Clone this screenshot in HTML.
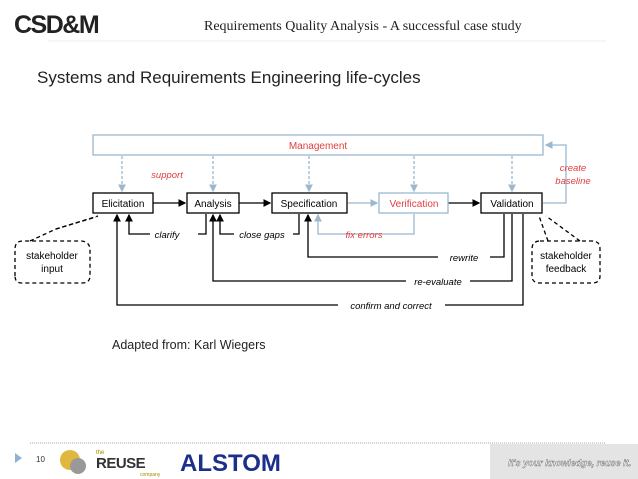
<html><body style="margin:0;width:638px;height:479px;background:#fff;overflow:hidden;position:relative;font-family:'Liberation Sans',sans-serif">
<svg width="638" height="479" style="position:absolute;left:0;top:0">
<defs>
<marker id="a" markerWidth="6" markerHeight="6" refX="5" refY="3" orient="auto"><path d="M0,0L6,3L0,6z" fill="#000"/></marker>
<marker id="b" markerWidth="6" markerHeight="6" refX="5" refY="3" orient="auto"><path d="M0,0L6,3L0,6z" fill="#9bb8cf"/></marker>
</defs>
<text x="14" y="33" font-size="25" font-family="Liberation Sans" font-weight="bold" fill="#222" letter-spacing="-1.5">CSD&amp;M</text>
<text x="204" y="30" font-size="14" font-family="Liberation Serif" fill="#222">Requirements Quality Analysis - A successful case study</text>
<line x1="48" y1="41" x2="606" y2="41" stroke="#eee"/>
<text x="37" y="83" font-size="17" fill="#222">Systems and Requirements Engineering life-cycles</text>
<g fill="none" stroke-width="1.3">
<rect x="93" y="135" width="450" height="20" stroke="#9bb8cf"/>
<g stroke="#9bb8cf" stroke-dasharray="3,2" marker-end="url(#b)">
<line x1="122" y1="156" x2="122" y2="191"/><line x1="213" y1="156" x2="213" y2="191"/><line x1="309" y1="156" x2="309" y2="191"/><line x1="414" y1="156" x2="414" y2="191"/><line x1="512" y1="156" x2="512" y2="191"/>
</g>
<g stroke="#9bb8cf">
<path d="M348,203H377" marker-end="url(#b)"/>
<path d="M543,203H566V145H546" marker-end="url(#b)"/>
<path d="M414,214V234H318V215" marker-end="url(#b)"/>
</g>
<g stroke="#000">
<rect x="93" y="193" width="60" height="20"/><rect x="187" y="193" width="52" height="20"/><rect x="272" y="193" width="75" height="20"/>
<rect x="481" y="193" width="61" height="20"/>
<path d="M153,203H185" marker-end="url(#a)"/><path d="M239,203H270" marker-end="url(#a)"/><path d="M448,203H479" marker-end="url(#a)"/>
<path d="M206,214V234H198" /><path d="M150,234H129V215" marker-end="url(#a)"/>
<path d="M299,214V234H293"/><path d="M234,234H220V215" marker-end="url(#a)"/>
<path d="M504,214V257H490"/><path d="M438,257H308V215" marker-end="url(#a)"/>
<path d="M512,214V281H470"/><path d="M406,281H213V215" marker-end="url(#a)"/>
<path d="M523,214V305H445"/><path d="M338,305H117V215" marker-end="url(#a)"/>
</g>
<g stroke="#000" stroke-dasharray="4,3">
<path d="M15,276V249Q15,241 23,241H80Q90,241 90,250V276Q90,283 82,283H22Q15,283 15,276"/>
<path d="M30,241L56,229L96,217"/><path d="M56,229L98,216"/>
<path d="M540,241H592Q600,241 600,249V276Q600,283 592,283H540Q532,283 532,276V249Q532,241 540,241"/>
<path d="M548,241L539,216"/><path d="M580,241L546,216"/>
</g>
<rect x="379" y="193" width="69" height="20" stroke="#9bb8cf"/>
</g>
<g font-size="10" text-anchor="middle">
<text x="318" y="149" fill="#e04040">Management</text>
<text x="123" y="207">Elicitation</text><text x="213" y="207">Analysis</text><text x="309" y="207">Specification</text>
<text x="414" y="207" fill="#e04040">Verification</text><text x="512" y="207">Validation</text>
<g font-style="italic" font-size="9.5">
<text x="167" y="178" fill="#e04040">support</text>
<text x="573" y="171" fill="#e04040">create</text><text x="573" y="184" fill="#e04040">baseline</text>
<text x="167" y="238">clarify</text><text x="262" y="238">close gaps</text>
<text x="364" y="238" fill="#e04040">fix errors</text>
<text x="464" y="261">rewrite</text><text x="438" y="285">re-evaluate</text><text x="391" y="309">confirm and correct</text>
</g>
<text x="52" y="259">stakeholder</text><text x="52" y="272">input</text>
<text x="566" y="259">stakeholder</text><text x="566" y="272">feedback</text>
</g>
<text x="112" y="349" font-size="12.5" fill="#222">Adapted from: Karl Wiegers</text>
<line x1="30" y1="443" x2="606" y2="443" stroke="#aaa" stroke-dasharray="1,1"/>
<path d="M15,453L22,458L15,463z" fill="#8eb3d4"/>
<text x="36" y="462" font-size="8" fill="#333">10</text>
<circle cx="70" cy="460" r="10" fill="#e0b840"/><circle cx="78" cy="466" r="8" fill="#999"/>
<text x="96" y="454" font-size="6" fill="#a80">the</text>
<text x="96" y="468" font-size="15" fill="#333" font-weight="bold" letter-spacing="-0.5">REUSE</text>
<text x="140" y="476" font-size="5" fill="#a80">company</text>
<text x="180" y="471" font-size="24" fill="#1c2f8a" font-weight="bold">ALSTOM</text>
<rect x="490" y="444" width="148" height="35" fill="#e4e4e4"/>
<text x="508" y="466" font-size="9" font-style="italic" font-weight="bold" fill="#fff" stroke="#666" stroke-width="0.4">It's your knowledge, reuse it.</text>
</svg>
</body></html>
